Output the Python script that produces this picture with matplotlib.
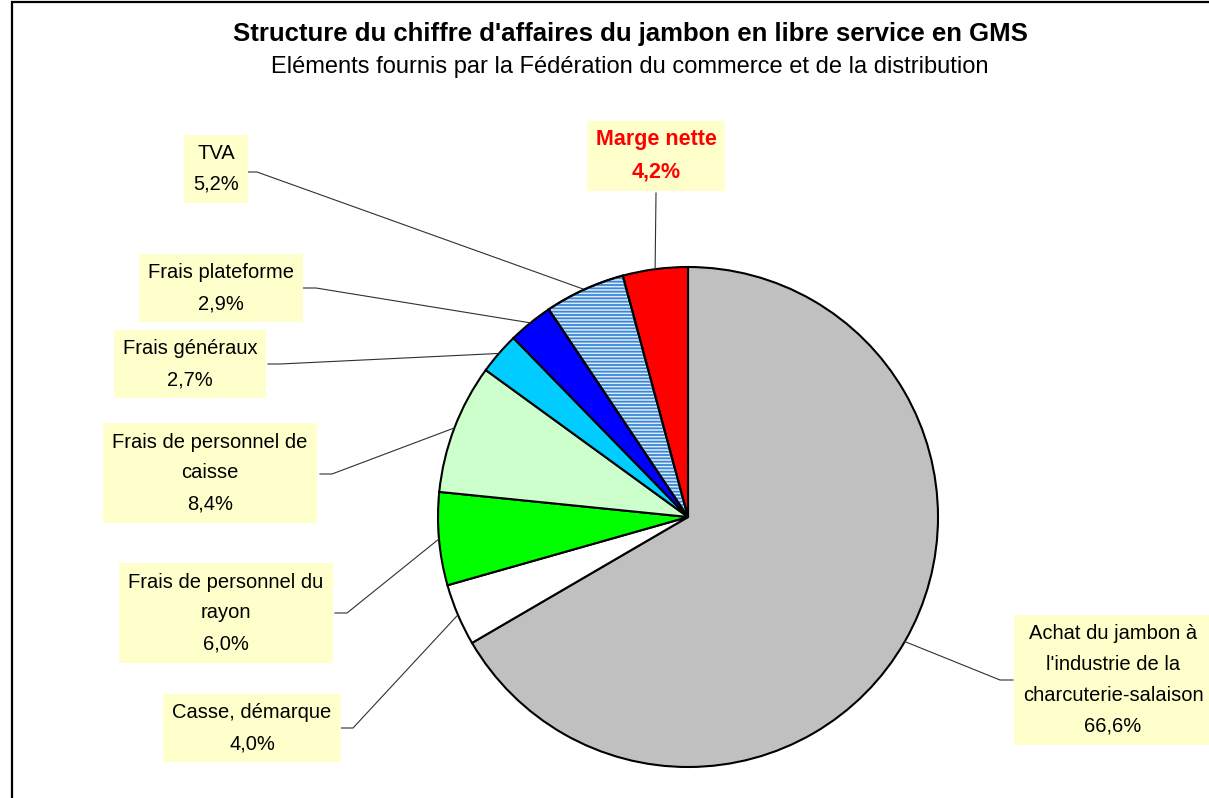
import numpy as np
import matplotlib.pyplot as plt
from matplotlib.patches import Rectangle, Wedge

plt.rcParams['font.family'] = ['Liberation Sans', 'DejaVu Sans']
plt.rcParams['hatch.linewidth'] = 1.3

# ---- data (clockwise from 12 o'clock) ----
labels = ["Achat du jambon à\nl'industrie de la\ncharcuterie-salaison",
          "Casse, démarque",
          "Frais de personnel du\nrayon",
          "Frais de personnel de\ncaisse",
          "Frais généraux",
          "Frais plateforme",
          "TVA",
          "Marge nette"]
values = [66.6, 4.0, 6.0, 8.4, 2.7, 2.9, 5.2, 4.2]
colors = ['#C0C0C0', '#FFFFFF', '#00FF00', '#CCFFCC', '#00CCFF', '#0000FF', '#DDEBF7', '#FF0000']

title = "Structure du chiffre d'affaires du jambon en libre service en GMS"
subtitle = "Eléments fournis par la Fédération du commerce et de la distribution"

# ---- layout in pixel coords (y from top) ----
W, H = 1209, 798
cx, cy, R = 688, 517, 250
# text centre, box anchor, elbow
label_pos = [((1113, 680), (1013, 680), (1000, 680)),
             ((252, 728), (341, 728), (353, 728)),
             ((226, 613), (335, 613), (347, 613)),
             ((210, 473), (320, 474), (332, 474)),
             ((190, 364), (268, 364), (280, 364)),
             ((221, 288), (303, 288), (316, 288)),
             ((216, 169), (245, 172), (257, 172)),
             ((656, 156), (656, 193), (656, 193))]


def Y(py):
    return H - py


fig = plt.figure(figsize=(W / 100, H / 100), dpi=100)
ax = fig.add_axes([0, 0, 1, 1])

# frame
ax.add_patch(Rectangle((12, Y(820)), 1220, 818, fill=False, lw=1.6, ec='black', clip_on=False))

wedges, _ = ax.pie(values, colors=colors, startangle=90, counterclock=False,
                   center=(cx, Y(cy)), radius=R, frame=True,
                   wedgeprops=dict(edgecolor='black', linewidth=1.5))

# TVA: blue horizontal stripes
tva = wedges[6]
ax.add_patch(Wedge(tva.center, tva.r, tva.theta1, tva.theta2, facecolor='none',
                   edgecolor='#3A87DA', lw=0, hatch='-----', zorder=1.5))
ax.add_patch(Wedge(tva.center, tva.r, tva.theta1, tva.theta2, fill=False,
                   edgecolor='black', lw=1.5, zorder=2))

ax.set_xlim(0, W)
ax.set_ylim(0, H)
ax.axis('off')

total = sum(values)
cum = 0
for i, (lab, val) in enumerate(zip(labels, values)):
    mid = np.deg2rad((cum + val / 2) / total * 360)
    cum += val
    ex = cx + R * np.sin(mid)
    ey = cy - R * np.cos(mid)
    (tx, ty), (axx, ayy), (elx, ely) = label_pos[i]
    ax.plot([axx, elx, ex], [Y(ayy), Y(ely), Y(ey)], color='#303030', lw=0.8, zorder=1)
    txt = f"{lab}\n{val:.1f}%".replace('.', ',')
    if lab == "Marge nette":
        kw = dict(color='red', fontweight='bold', fontsize=15.5, linespacing=1.7)
        pad = 'square,pad=0.4'
    else:
        kw = dict(color='black', fontsize=14.5, linespacing=1.8)
        pad = 'square,pad=0.45'
    ax.text(tx, Y(ty), txt, ha='center', va='center',
            bbox=dict(boxstyle=pad, fc='#FFFFCC', ec='none'), zorder=5, **kw)

ax.text(630, Y(34), title, ha='center', va='center', fontsize=18.5, fontweight='bold')
ax.text(630, Y(67), subtitle, ha='center', va='center', fontsize=17)

fig.savefig('out.png', dpi=100)
